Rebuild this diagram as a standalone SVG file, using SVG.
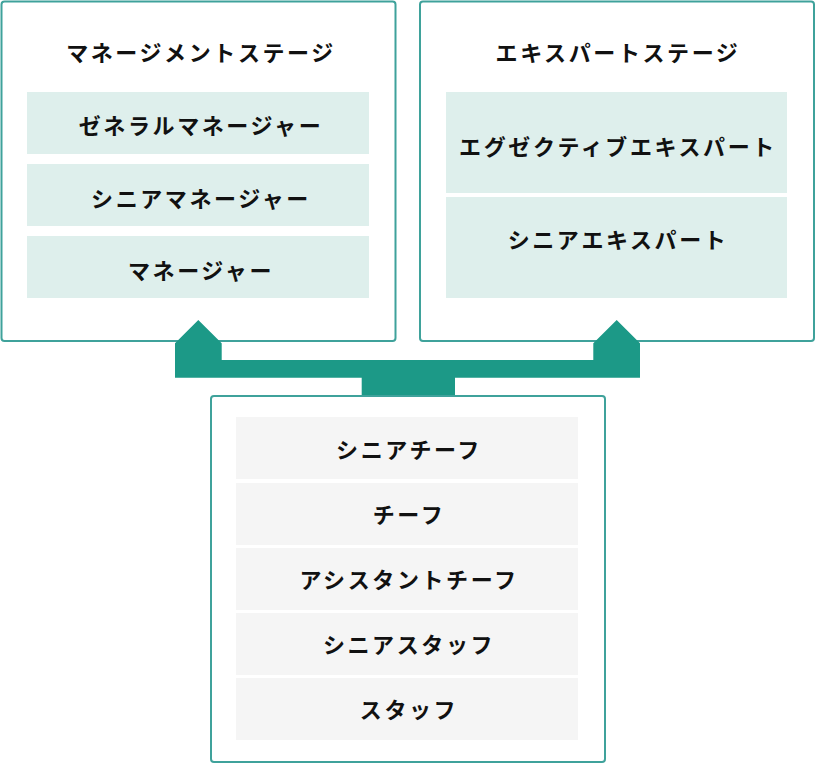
<svg xmlns="http://www.w3.org/2000/svg" width="816" height="764" viewBox="0 0 816 764">
<style>
.box{fill:#ffffff;stroke:#3fa29b;stroke-width:2}
.rowg{fill:#deefec}
.rowy{fill:#f5f5f5}
.t{font-family:"Noto Sans CJK JP","Noto Sans",sans-serif;font-size:22px;font-weight:700;fill:#111111;text-anchor:middle;letter-spacing:2.6px}
.conn{fill:#1c9987}
</style>
<rect width="816" height="764" fill="#ffffff"/>
<g id="management">
<rect class="box" x="1.5" y="1.5" width="394" height="339.5" rx="3"/>
<text class="t" x="201" y="61">マネージメントステージ</text>
<rect class="rowg" x="27" y="92" width="342" height="62"/>
<text class="t" x="201" y="134">ゼネラルマネージャー</text>
<rect class="rowg" x="27" y="164" width="342" height="62"/>
<text class="t" x="201" y="207">シニアマネージャー</text>
<rect class="rowg" x="27" y="236" width="342" height="62"/>
<text class="t" x="201" y="279">マネージャー</text>
</g>
<g id="expert">
<rect class="box" x="420" y="1.5" width="394" height="339.5" rx="3"/>
<text class="t" x="618" y="61">エキスパートステージ</text>
<rect class="rowg" x="446" y="92" width="341" height="101"/>
<text class="t" x="618" y="155">エグゼクティブエキスパート</text>
<rect class="rowg" x="446" y="197" width="341" height="101"/>
<text class="t" x="618" y="248">シニアエキスパート</text>
</g>
<g id="staff">
<rect class="box" x="211" y="396" width="394" height="366" rx="3"/>
<rect class="rowy" x="236" y="417" width="342" height="62"/>
<text class="t" x="409" y="458">シニアチーフ</text>
<rect class="rowy" x="236" y="483" width="342" height="62"/>
<text class="t" x="409" y="523">チーフ</text>
<rect class="rowy" x="236" y="548" width="342" height="62"/>
<text class="t" x="409" y="588">アシスタントチーフ</text>
<rect class="rowy" x="236" y="613" width="342" height="62"/>
<text class="t" x="409" y="653">シニアスタッフ</text>
<rect class="rowy" x="236" y="678" width="342" height="62"/>
<text class="t" x="409" y="718">スタッフ</text>
</g>
<g id="connectors">
<polygon class="conn" points="175,343.3 198.3,320 221.7,343.3 221.7,360 593.3,360 593.3,343.3 616.7,320 640,343.3 640,377.7 455,377.7 455,395 361.7,395 361.7,377.7 175,377.7"/>
</g>
</svg>
